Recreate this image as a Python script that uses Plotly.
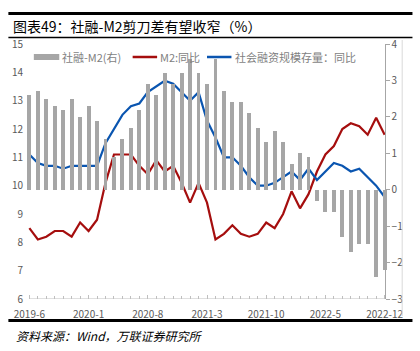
import plotly.graph_objects as go

# ---------------- data ----------------
months = []
y, m = 2019, 6
for _ in range(43):
    months.append(f"{y}-{m}")
    m += 1
    if m > 12:
        m = 1
        y += 1

m2_yoy = [8.5, 8.1, 8.2, 8.4, 8.4, 8.2, 8.7, 8.4, 8.8, 10.1, 11.1, 11.1, 11.1,
          10.7, 10.4, 10.9, 10.5, 10.7, 10.1, 9.4, 10.1, 9.4, 8.1, 8.3, 8.6,
          8.3, 8.2, 8.3, 8.7, 8.5, 9.0, 9.8, 9.2, 9.7, 10.5, 11.1, 11.4,
          12.0, 12.2, 12.1, 11.8, 12.4, 11.8]

sf_yoy = [11.1, 10.8, 10.7, 10.7, 10.6, 10.7, 10.7, 10.7, 10.7, 11.5, 12.0, 12.5, 12.8,
          12.9, 13.3, 13.5, 13.7, 13.6, 13.3, 13.0, 13.3, 12.3, 11.7, 11.0, 11.0,
          10.7, 10.3, 10.0, 10.0, 10.1, 10.3, 10.5, 10.2, 10.6, 10.2, 10.5, 10.8,
          10.7, 10.5, 10.6, 10.3, 10.0, 9.6]

gap = [2.6, 2.7, 2.5, 2.3, 2.2, 2.5, 2.0, 2.3, 1.9, 1.4, 0.9, 1.4, 1.7,
       2.2, 2.9, 2.6, 3.2, 2.9, 3.2, 3.6, 3.2, 2.9, 3.6, 2.7, 2.4,
       2.4, 2.1, 1.7, 1.3, 1.6, 1.3, 0.7, 1.0, 0.9, -0.3, -0.6, -0.6,
       -1.3, -1.7, -1.5, -1.5, -2.4, -2.2]

tick_idx = [0, 7, 14, 21, 28, 35, 42]
tick_labels = [months[i] for i in tick_idx]

legend_names = ["社融-M2(右)", "M2:同比", "社会融资规模存量：同比"]
title_text = "图表49：社融-M2剪刀差有望收窄（%）"
source_text = "资料来源：Wind，万联证券研究所"

# ---------------- styles ----------------
FONT = "Noto Sans CJK SC"
BAR_C = "#a6a6a6"
RED = "#a50e0e"
BLUE = "#0a55b0"
AX_C = "#595959"
W, H = 420, 351
L, R, T, B = 18, 32, 44, 52
PW, PH = W - L - R, H - T - B
XPAD = 0.4

def px(xp):
    return (xp - L) / PW

def py(yp):
    return (H - B - yp) / PH

x = list(range(len(months)))

fig = go.Figure()
fig.add_trace(go.Bar(x=x, y=gap, yaxis="y2", marker=dict(color=BAR_C, line=dict(width=0)),
                     width=0.46, name=legend_names[0], showlegend=False))
fig.add_trace(go.Scatter(x=x, y=m2_yoy, mode="lines", line=dict(color=RED, width=2.2),
                         name=legend_names[1], showlegend=False))
fig.add_trace(go.Scatter(x=x, y=sf_yoy, mode="lines", line=dict(color=BLUE, width=2.2),
                         name=legend_names[2], showlegend=False))

y2pos = (42 + XPAD) / (42 + 2 * XPAD)

fig.update_layout(
    width=W, height=H,
    margin=dict(l=L, r=R, t=T, b=B),
    paper_bgcolor="white", plot_bgcolor="white",
    font=dict(family=FONT, size=10, color=AX_C),
    xaxis=dict(range=[-XPAD, 42 + XPAD], showgrid=False, zeroline=False, showline=False,
               tickvals=tick_idx, ticktext=tick_labels, ticks="inside", ticklen=4,
               tickcolor="#bfbfbf", tickfont=dict(size=10, color=AX_C),
               minor=dict(dtick=1, tick0=0, ticks="inside", ticklen=3, tickcolor="#bfbfbf"),
               ticklabelstandoff=8),
    yaxis=dict(range=[6, 15], dtick=1, showgrid=False, zeroline=False, showline=False,
               ticks="", tickfont=dict(size=10, color=AX_C), ticklabelstandoff=2),
    yaxis2=dict(range=[-3, 4], dtick=1, overlaying="y", side="right", anchor="free",
                position=y2pos, showgrid=False, zeroline=False, showline=True,
                linecolor="#a6a6a6", linewidth=1, ticks="outside", ticklen=4,
                tickcolor="#a6a6a6", tickfont=dict(size=10, color=AX_C)),
    bargap=0, showlegend=False,
)

shapes = []
shapes.append(dict(type="line", xref="x", yref="y", x0=0, x1=42, y0=6, y1=6,
                   line=dict(color="#bfbfbf", width=1)))
shapes.append(dict(type="line", xref="paper", yref="paper", x0=px(402.5), x1=px(402.5),
                   y0=py(40), y1=py(316), line=dict(color="#d9d9d9", width=1)))
shapes.append(dict(type="line", xref="paper", yref="paper", x0=px(0), x1=px(413),
                   y0=py(13.5), y1=py(13.5), line=dict(color="black", width=3)))
shapes.append(dict(type="line", xref="paper", yref="paper", x0=px(0), x1=px(413),
                   y0=py(37.5), y1=py(37.5), line=dict(color="black", width=1.5)))
shapes.append(dict(type="line", xref="paper", yref="paper", x0=px(0), x1=px(413),
                   y0=py(320.5), y1=py(320.5), line=dict(color="black", width=3)))
shapes.append(dict(type="rect", xref="paper", yref="paper", x0=px(26), x1=px(52),
                   y0=py(60), y1=py(54), fillcolor=BAR_C, line=dict(width=0)))
shapes.append(dict(type="line", xref="paper", yref="paper", x0=px(127), x1=px(152),
                   y0=py(57), y1=py(57), line=dict(color=RED, width=2.5)))
shapes.append(dict(type="line", xref="paper", yref="paper", x0=px(203), x1=px(228),
                   y0=py(57), y1=py(57), line=dict(color=BLUE, width=2.5)))
fig.update_layout(shapes=shapes)

ann = []
for xp, txt in [(53, legend_names[0]), (153, legend_names[1]), (230, legend_names[2])]:
    ann.append(dict(xref="paper", yref="paper", x=px(xp), y=py(57), text=txt,
                    showarrow=False, xanchor="left", yanchor="middle",
                    font=dict(family=FONT, size=11, color="#7f7f7f")))
ann.append(dict(xref="paper", yref="paper", x=px(3), y=py(25.5), text=title_text,
                showarrow=False, xanchor="left", yanchor="middle",
                font=dict(family=FONT, size=14, color="black")))
ann.append(dict(xref="paper", yref="paper", x=px(6), y=py(335), text=source_text,
                showarrow=False, xanchor="left", yanchor="middle",
                font=dict(family=FONT, size=12, color="black", style="italic")))
fig.update_layout(annotations=ann)

fig.write_html("out.html")
